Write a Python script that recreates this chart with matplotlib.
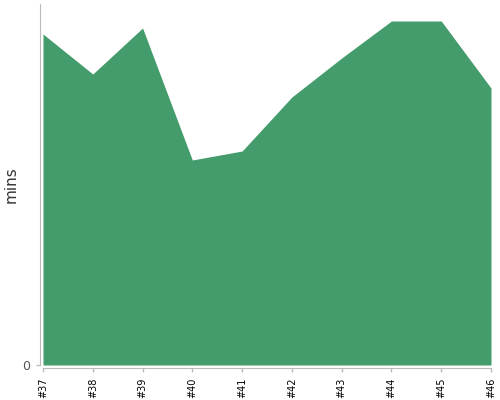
import matplotlib
matplotlib.use("Agg")
import matplotlib.pyplot as plt

builds = ["#37", "#38", "#39", "#40", "#41", "#42", "#43", "#44", "#45", "#46"]
mins = [33.1, 29.1, 33.7, 20.5, 21.4, 26.8, 30.7, 34.4, 34.4, 27.7]

fig = plt.figure(figsize=(5, 4), dpi=100)
ax = fig.add_axes([0.086, 0.0875, 0.896, 0.9025])

x = list(range(len(builds)))
ax.fill_between(x, 0, mins, color="#449b6b", linewidth=0)
ax.set_xlim(0, len(builds) - 1)
ax.set_ylim(0, 36.1)

for s in ["top", "right"]:
    ax.spines[s].set_visible(False)
for s in ["left", "bottom"]:
    ax.spines[s].set_color("#bbbbbb")
    ax.spines[s].set_position(("outward", 2.5))
ax.tick_params(colors="#bbbbbb", length=3, width=1)

ax.set_xticks(x)
ax.set_xticklabels(builds)
ax.tick_params(axis="x", labelrotation=90, labelsize=7, labelcolor="black")
ax.set_yticks([0])
ax.set_yticklabels(["0"])
ax.tick_params(axis="y", labelsize=9, labelcolor="#555555")
ax.set_ylabel("mins", fontsize=11, color="#333333")
ax.yaxis.set_label_coords(-0.054, 0.5)

fig.savefig("out.png", dpi=100)
